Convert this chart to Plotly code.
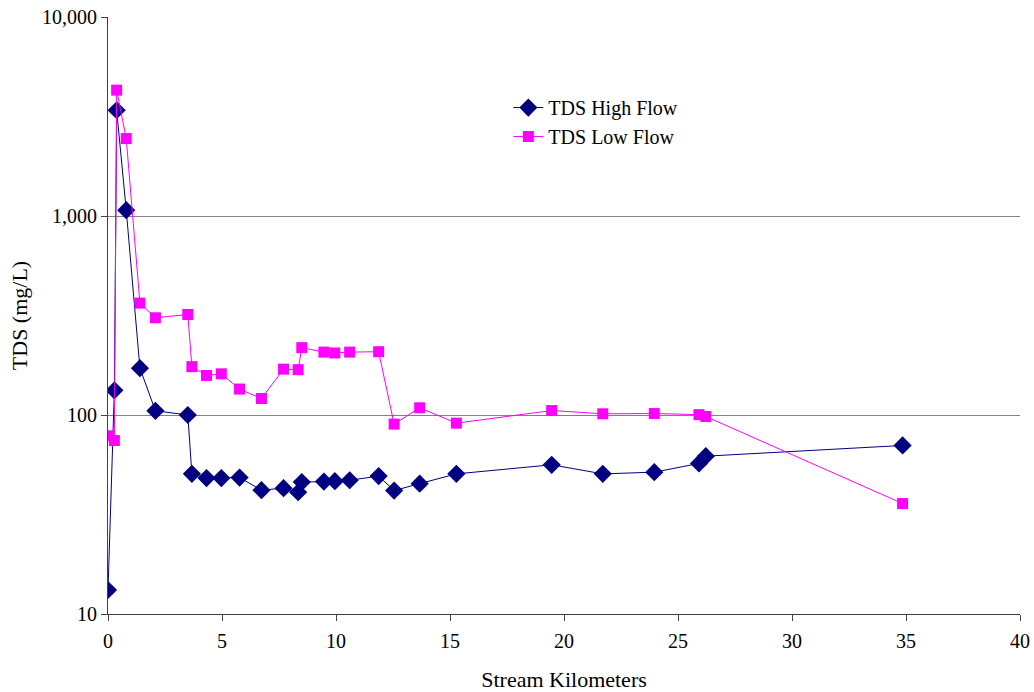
import plotly.graph_objects as go

# Sampling stations along the stream (km)
km = [0.0, 0.28, 0.38, 0.80, 1.40, 2.08, 3.50, 3.68, 4.32, 4.97, 5.77, 6.73,
      7.70, 8.34, 8.50, 9.47, 9.95, 10.60, 11.87, 12.55, 13.67, 15.28, 19.46,
      21.70, 23.96, 25.92, 26.22, 34.85]

# Total dissolved solids (mg/L)
tds_high = [13.2, 133, 3400, 1070, 172, 105, 100, 50.6, 48.2, 48.2, 48.5, 41.9,
            42.9, 40.9, 46.0, 46.3, 46.5, 47.0, 49.3, 41.7, 45.2, 50.6, 56.2,
            50.6, 51.6, 57.1, 62.1, 70.3]
tds_low = [78.6, 74.4, 4290, 2450, 365, 308, 320, 175, 158, 161, 135, 121,
           170, 169, 218, 207, 205, 207, 208, 90, 108.7, 91, 105.3,
           101.4, 101.7, 100.4, 98.3, 35.9]

y_tickvals = [10, 100, 1000, 10000]
y_ticktext = ["10", "100", "1,000", "10,000"]
x_tickvals = [0, 5, 10, 15, 20, 25, 30, 35, 40]

FONT = "Times New Roman, Liberation Serif, serif"

fig = go.Figure()
fig.add_trace(go.Scatter(
    x=km, y=tds_high, name="TDS High Flow", mode="lines+markers",
    line=dict(color="#000080", width=1),
    marker=dict(symbol="diamond", size=14, color="#000080"),
))
fig.add_trace(go.Scatter(
    x=km, y=tds_low, name="TDS Low Flow", mode="lines+markers",
    line=dict(color="#FF00FF", width=1),
    marker=dict(symbol="square", size=11, color="#FF00FF"),
))

fig.update_layout(
    width=1034, height=692,
    margin=dict(l=108, r=14, t=17, b=78),
    paper_bgcolor="white", plot_bgcolor="white",
    font=dict(family=FONT, size=20, color="black"),
    legend=dict(x=0.439, y=0.881, xanchor="left", yanchor="top",
                bgcolor="rgba(0,0,0,0)", font=dict(family=FONT, size=20),
                tracegroupgap=0),
    showlegend=True,
)
fig.update_xaxes(
    range=[0, 40], tickvals=x_tickvals, ticks="outside", ticklen=6,
    tickfont=dict(family=FONT, size=20), ticklabelstandoff=3,
    showline=True, linecolor="#404040", linewidth=1, showgrid=False,
    zeroline=False, automargin=False,
    title=dict(text="Stream Kilometers", font=dict(family=FONT, size=22),
               standoff=25),
)
fig.update_yaxes(
    type="log", range=[1, 4], tickvals=y_tickvals, ticktext=y_ticktext,
    tickfont=dict(family=FONT, size=20),
    ticks="outside", ticklen=6, showline=True, linecolor="#404040",
    linewidth=1, showgrid=True, gridcolor="#808080", gridwidth=1,
    automargin=False,
    title=dict(text="TDS (mg/L)", font=dict(family=FONT, size=22), standoff=8),
)

fig.write_html("out.html")
